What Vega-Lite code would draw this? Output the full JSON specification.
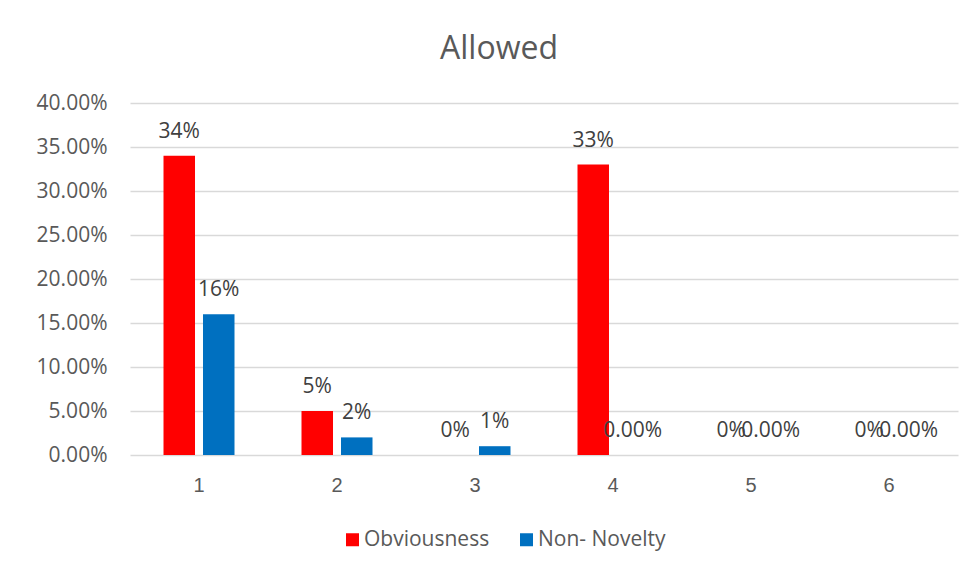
{
  "$schema": "https://vega.github.io/schema/vega-lite/v6.json",
  "width": 828,
  "height": 352,
  "autosize": {"type": "none"},
  "padding": {"left": 130, "top": 103, "right": 16, "bottom": 119},
  "background": "white",
  "config": {
    "view": {"stroke": null},
    "font": "Open Sans"
  },
  "title": {
    "text": "Allowed",
    "font": "Open Sans",
    "fontSize": 32,
    "fontWeight": "normal",
    "color": "#595959",
    "frame": "group",
    "anchor": "middle",
    "dx": -45,
    "offset": 1,
    "baseline": "alphabetic"
  },
  "data": {
    "values": [
      {"category": "1", "series": "Obviousness", "value": 0.34, "label": "34%"},
      {"category": "1", "series": "Non- Novelty", "value": 0.16, "label": "16%"},
      {"category": "2", "series": "Obviousness", "value": 0.05, "label": "5%"},
      {"category": "2", "series": "Non- Novelty", "value": 0.02, "label": "2%"},
      {"category": "3", "series": "Obviousness", "value": 0.0, "label": "0%"},
      {"category": "3", "series": "Non- Novelty", "value": 0.01, "label": "1%"},
      {"category": "4", "series": "Obviousness", "value": 0.33, "label": "33%"},
      {"category": "4", "series": "Non- Novelty", "value": 0.0, "label": "0.00%"},
      {"category": "5", "series": "Obviousness", "value": 0.0, "label": "0%"},
      {"category": "5", "series": "Non- Novelty", "value": 0.0, "label": "0.00%"},
      {"category": "6", "series": "Obviousness", "value": 0.0, "label": "0%"},
      {"category": "6", "series": "Non- Novelty", "value": 0.0, "label": "0.00%"}
    ]
  },
  "encoding": {
    "x": {
      "field": "category",
      "type": "nominal",
      "scale": {"paddingInner": 0.4855, "paddingOuter": 0.2428},
      "axis": {
        "title": null,
        "labelAngle": 0,
        "labelFont": "Liberation Sans",
        "labelFontSize": 20,
        "labelColor": "#595959",
        "labelPadding": 20,
        "ticks": false,
        "domain": false,
        "grid": false
      }
    },
    "xOffset": {
      "field": "series",
      "type": "nominal",
      "sort": ["Obviousness", "Non- Novelty"],
      "scale": {"paddingInner": 0.2025, "paddingOuter": 0}
    },
    "y": {
      "field": "value",
      "type": "quantitative",
      "scale": {"domain": [0, 0.4]},
      "axis": {
        "title": null,
        "values": [0, 0.05, 0.1, 0.15, 0.2, 0.25, 0.3, 0.35, 0.4],
        "format": ".2%",
        "labelFont": "Open Sans",
        "labelFontSize": 21,
        "labelColor": "#595959",
        "labelPadding": 23,
        "ticks": false,
        "domain": false,
        "gridColor": "#D9D9D9",
        "gridWidth": 1.3
      }
    }
  },
  "layer": [
    {
      "mark": {"type": "bar"},
      "encoding": {
        "color": {
          "field": "series",
          "type": "nominal",
          "scale": {
            "domain": ["Obviousness", "Non- Novelty"],
            "range": ["#FF0000", "#0070C0"]
          },
          "legend": {
            "title": null,
            "orient": "none",
            "legendX": 212,
            "legendY": 426,
            "direction": "horizontal",
            "symbolType": "square",
            "symbolSize": 169,
            "symbolStrokeWidth": 0,
            "labelFont": "Open Sans",
            "labelFontSize": 21,
            "labelColor": "#595959",
            "labelOffset": 1,
            "columnPadding": 26
          }
        }
      }
    },
    {
      "mark": {
        "type": "text",
        "baseline": "alphabetic",
        "dy": -18,
        "font": "Open Sans",
        "fontSize": 21,
        "color": "#404040"
      },
      "encoding": {
        "text": {"field": "label", "type": "nominal"}
      }
    }
  ]
}
